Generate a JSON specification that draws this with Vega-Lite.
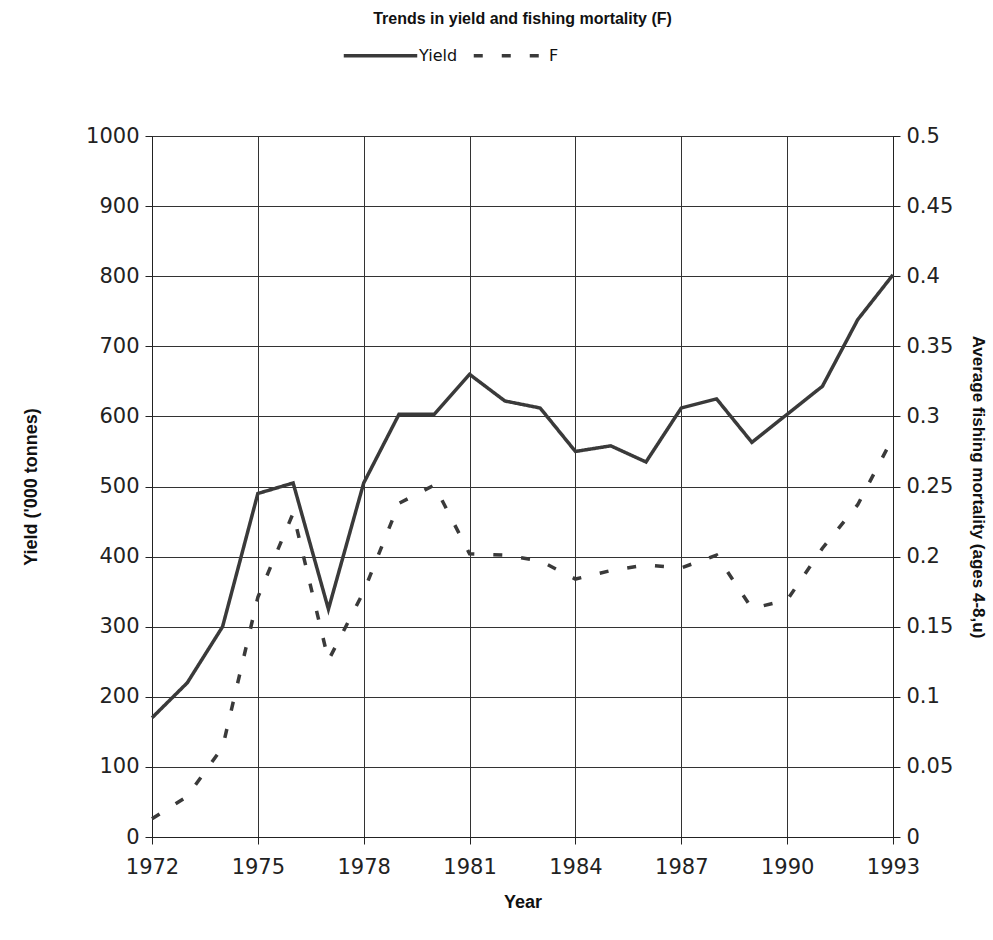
{
  "$schema": "https://vega.github.io/schema/vega-lite/v6.json",
  "autosize": "none",
  "width": 741,
  "height": 701,
  "padding": {"left": 152, "top": 136, "right": 100, "bottom": 103},
  "background": "white",
  "title": {
    "text": "Trends in yield and fishing mortality (F)",
    "fontSize": 16,
    "font": "Liberation Sans",
    "fontWeight": "bold",
    "color": "#111",
    "anchor": "middle",
    "offset": -10
  },
  "data": {
    "values": [
      {"Year": 1972, "Yield": 170, "F": 0.013},
      {"Year": 1973, "Yield": 220, "F": 0.029},
      {"Year": 1974, "Yield": 300, "F": 0.064},
      {"Year": 1975, "Yield": 490, "F": 0.171},
      {"Year": 1976, "Yield": 505, "F": 0.231},
      {"Year": 1977, "Yield": 325, "F": 0.126},
      {"Year": 1978, "Yield": 505, "F": 0.175},
      {"Year": 1979, "Yield": 603, "F": 0.238},
      {"Year": 1980, "Yield": 603, "F": 0.251},
      {"Year": 1981, "Yield": 660, "F": 0.202},
      {"Year": 1982, "Yield": 622, "F": 0.201},
      {"Year": 1983, "Yield": 612, "F": 0.197},
      {"Year": 1984, "Yield": 550, "F": 0.184},
      {"Year": 1985, "Yield": 558, "F": 0.19},
      {"Year": 1986, "Yield": 535, "F": 0.194},
      {"Year": 1987, "Yield": 612, "F": 0.192},
      {"Year": 1988, "Yield": 625, "F": 0.201},
      {"Year": 1989, "Yield": 563, "F": 0.163},
      {"Year": 1990, "Yield": 603, "F": 0.169},
      {"Year": 1991, "Yield": 643, "F": 0.206},
      {"Year": 1992, "Yield": 738, "F": 0.237},
      {"Year": 1993, "Yield": 802, "F": 0.285}
    ]
  },
  "encoding": {
    "x": {
      "field": "Year",
      "type": "quantitative",
      "scale": {"domain": [1972, 1993], "nice": false, "zero": false},
      "axis": {
        "values": [1972, 1975, 1978, 1981, 1984, 1987, 1990, 1993],
        "format": "d",
        "title": "Year",
        "titlePadding": 16,
        "labelPadding": 12,
        "labelFlush": false,
        "grid": true
      }
    }
  },
  "layer": [
    {
      "mark": {"type": "line", "stroke": "#3a3a3a", "strokeWidth": 3.5, "strokeJoin": "miter"},
      "encoding": {
        "y": {
          "field": "Yield",
          "type": "quantitative",
          "scale": {"domain": [0, 1000], "nice": false},
          "axis": {
            "values": [0, 100, 200, 300, 400, 500, 600, 700, 800, 900, 1000],
            "format": "d",
            "title": "Yield ('000 tonnes)",
            "titlePadding": 45,
            "grid": true,
            "orient": "left"
          }
        },
        "strokeDash": {
          "datum": "Yield",
          "type": "nominal",
          "scale": {"domain": ["Yield", "F"], "range": [[1, 0], [9, 19]]},
          "legend": {
            "title": null,
            "orient": "none",
            "legendX": 190,
            "legendY": -119,
            "direction": "horizontal",
            "symbolType": "stroke",
            "symbolSize": 5400,
            "symbolStrokeWidth": 3.5,
            "symbolStrokeColor": "#3a3a3a",
            "labelFontSize": 16,
            "labelFont": "DejaVu Sans",
            "labelColor": "#111",
            "labelOffset": 0,
            "columnPadding": 8
          }
        }
      }
    },
    {
      "mark": {"type": "line", "stroke": "#3a3a3a", "strokeWidth": 3.5},
      "encoding": {
        "y": {
          "field": "F",
          "type": "quantitative",
          "scale": {"domain": [0, 0.5], "nice": false},
          "axis": {
            "values": [0, 0.05, 0.1, 0.15, 0.2, 0.25, 0.3, 0.35, 0.4, 0.45, 0.5],
            "format": "~g",
            "title": "Average fishing mortality (ages 4-8,u)",
            "titlePadding": 16,
            "titleFontSize": 17,
            "grid": false,
            "orient": "right"
          }
        },
        "strokeDash": {"datum": "F", "type": "nominal"}
      }
    }
  ],
  "resolve": {"scale": {"y": "independent"}},
  "config": {
    "view": {"stroke": "#222", "strokeWidth": 1},
    "axis": {
      "labelFont": "DejaVu Sans",
      "labelFontSize": 21,
      "labelColor": "#222",
      "titleFont": "Liberation Sans",
      "titleFontSize": 18,
      "titleFontWeight": "bold",
      "titleColor": "#111",
      "gridColor": "#333",
      "gridWidth": 1,
      "gridOpacity": 1,
      "domainColor": "#222",
      "tickColor": "#222",
      "tickSize": 7,
      "labelPadding": 6
    }
  }
}
